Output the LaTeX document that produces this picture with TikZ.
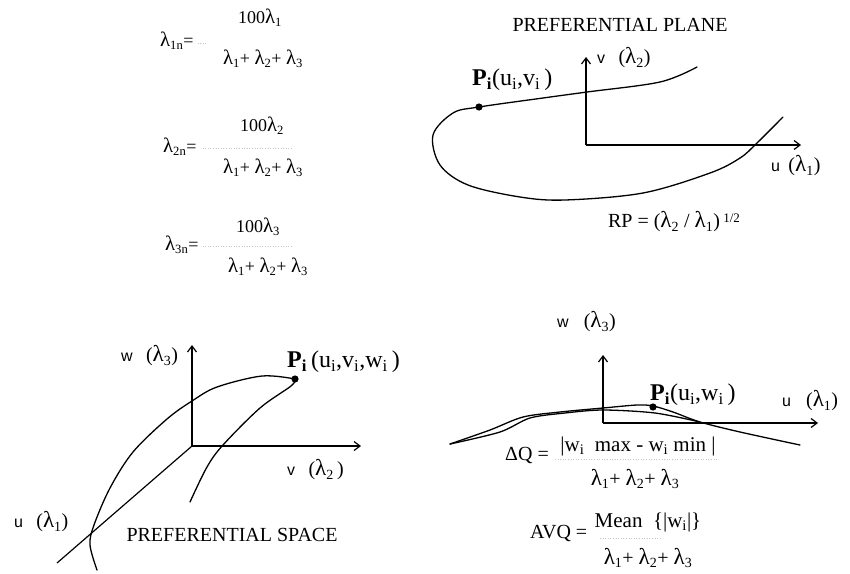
\documentclass[tikz,border=0pt]{standalone}
\usepackage{fontspec}
\setmainfont{Liberation Serif}
\newfontfamily\axfont{Liberation Sans}
\usetikzlibrary{arrows.meta}
\newcommand{\Lam}{\scalebox{1.15}{λ}}
\newcommand{\Lsb}[1]{\Lam\textsubscript{#1}}
\newcommand{\Ax}[1]{{\axfont\fontsize{16}{18}\selectfont #1}}
\newcommand{\PB}{\textbf{P}\textsubscript{\textbf{i}}}
\begin{document}
\begin{tikzpicture}[x=1pt,y=-1pt,
  frm/.style={inner sep=0pt,font=\fontsize{18}{21}\selectfont},
  lbl/.style={inner sep=0pt,font=\fontsize{20}{24}\selectfont},
  plbl/.style={inner sep=0pt,font=\fontsize{24}{28}\selectfont},
  axis/.style={line width=1.2pt,-{Straight Barb[length=6pt,width=9pt]}},
  axline/.style={line width=1.2pt},
  crv/.style={line width=1.3pt,line cap=round},
  fbar/.style={gray!45,dotted,line width=0.6pt},
  ptdot/.style={fill=black}]
\useasboundingbox (0,0) rectangle (850,573);

% ---------- top-left formulas ----------
\node[frm,anchor=west] (e1) at (160,41) {\Lsb{1n}=};
\node[frm] (n1) at (260,18) {100\Lsb{1}};
\node[frm] (d1) at (263,59) {\Lsb{1}+ \Lsb{2}+ \Lsb{3}};
\draw[fbar] (e1.east) ++(4,2) -- ++(10,0);

\node[frm,anchor=west] (e2) at (163,147) {\Lsb{2n}=};
\node[frm] (n2) at (262,126) {100\Lsb{2}};
\node[frm] (d2) at (263,168) {\Lsb{1}+ \Lsb{2}+ \Lsb{3}};
\draw[fbar] (e2.east) ++(6,1) -- ++(90,0);

\node[frm,anchor=west] (e3) at (165,245) {\Lsb{3n}=};
\node[frm] (n3) at (258,227) {100\Lsb{3}};
\node[frm] (d3) at (268,267) {\Lsb{1}+ \Lsb{2}+ \Lsb{3}};
\draw[fbar] (e3.east) ++(4,1) -- ++(90,0);

% ---------- preferential plane ----------
\node[lbl] (pp) at (620,25) {PREFERENTIAL PLANE};
\coordinate (O1) at (586,145);
\coordinate (V1) at (586,57);
\coordinate (U1) at (801,145);
\draw[axis] (O1) -- (V1);
\draw[axis] (O1) -- (U1);
\node[lbl,anchor=west] (v1) at (597,58) {\Ax{v}\ \ \,(\Lsb{2})};
\node[lbl,anchor=west] (u1) at (771,166) {\Ax{u}\ \,(\Lsb{1})};
\node[plbl,anchor=west] (p1) at (472,80) {\PB(u\textsubscript{i},v\textsubscript{i}\,)};
\coordinate (D1) at (479,107);
\draw[crv] plot[smooth,tension=0.55] coordinates {(697,67) (660,82) (587,92) (543,98) (479,107) (453,113) (433,135) (440,165) (468,185) (520,197) (565,200) (643,193) (710,173) (740,158) (757,143) (783,117)};
\fill[ptdot] (D1) circle (3.6);
\node[lbl] (rp) at (674,222) {RP = (\Lsb{2} / \Lsb{1})\,{\fontsize{13}{15}\selectfont\raisebox{5pt}{1/2}}};

% ---------- preferential space ----------
\coordinate (O2) at (192,446);
\coordinate (W2) at (192,345);
\coordinate (V2) at (361,446);
\coordinate (U2) at (57,563);
\draw[axis] (O2) -- (W2);
\draw[axis] (O2) -- (V2);
\draw[axline] (O2) -- (U2);
\node[lbl,anchor=west] (w2) at (121,356) {\Ax{w}\ \ \,(\Lsb{3})};
\node[lbl,anchor=west] (v2) at (287,470) {\Ax{v}\ \ \,(\Lsb{2}\,)};
\node[lbl,anchor=west] (u2) at (14,522) {\Ax{u}\ \ \,(\Lsb{1})};
\node[lbl] (ps) at (232,535) {PREFERENTIAL SPACE};
\node[plbl,anchor=west] (p2) at (287,362) {\PB\,(u\textsubscript{i},v\textsubscript{i},w\textsubscript{i}\,)};
\coordinate (D2) at (295,379);
\draw[crv] plot[smooth,tension=0.55] coordinates {(295,379) (262,376) (217,387) (192,401) (167,419) (133,452) (110,488) (94,525) (90,545) (97,570)};
\draw[crv] plot[smooth,tension=0.55] coordinates {(295,379) (291,386) (260,408) (223,445) (207,467) (190,502)};
\fill[ptdot] (D2) circle (3.6);

% ---------- bottom right ----------
\coordinate (O3) at (603,423);
\coordinate (W3) at (603,355);
\coordinate (U3) at (818,423);
\draw[axis] (O3) -- (W3);
\draw[axis] (O3) -- (U3);
\node[lbl,anchor=west] (w3) at (557,322) {\Ax{w}\ \ \ (\Lsb{3})};
\node[lbl,anchor=west] (u3) at (782,401) {\Ax{u}\ \ \ (\Lsb{1})};
\node[plbl,anchor=west] (p3) at (650,395) {\PB(u\textsubscript{i},w\textsubscript{i}\,)};
\coordinate (D3) at (653,407);
\draw[crv] plot[smooth,tension=0.5] coordinates {(450,444) (490,430) (523,417) (560,412) (603,408) (637,405) (653,406) (673,412) (700,422) (740,432) (800,445)};
\draw[crv] plot[smooth,tension=0.5] coordinates {(450,444) (500,432) (530,418) (565,413) (603,410) (655,413) (700,422)};
\fill[ptdot] (D3) circle (3.6);

\node[lbl,anchor=west] (dq) at (505,455) {ΔQ =};
\node[lbl,font=\fontsize{21}{25}\selectfont] (dqn) at (638,446) {|w\textsubscript{i}\ \ max - w\textsubscript{i}\ min |};
\node[lbl] (dqd) at (635,479) {\Lsb{1}+ \Lsb{2}+ \Lsb{3}};
\draw[fbar] (555,459) -- (717,459);

\node[lbl,anchor=west] (avq) at (530,533) {AVQ =};
\node[lbl,font=\fontsize{21}{25}\selectfont] (avn) at (648,522) {Mean \ \{|w\textsubscript{i}|\}};
\node[lbl] (avd) at (648,558) {\Lsb{1}+ \Lsb{2}+ \Lsb{3}};
\draw[fbar] (600,538) -- (660,538);
\end{tikzpicture}
\end{document}
